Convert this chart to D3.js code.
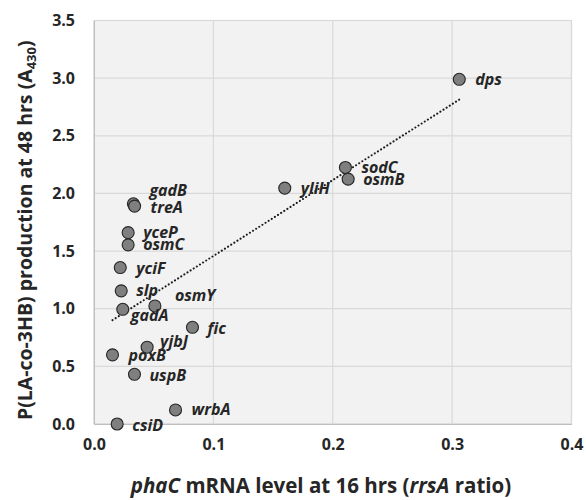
<!DOCTYPE html>
<html><head><meta charset="utf-8">
<script src="https://cdn.jsdelivr.net/npm/d3@7/dist/d3.min.js"></script>
<style>body{margin:0;background:#fff;} svg{display:block;}</style>
</head><body>
<svg id="c" width="586" height="500"></svg>
<script>
const genes = ["dps","sodC","osmB","yliH","gadB","treA","yceP","osmC","yciF","slp","gadA","osmY","fic","yjbJ","poxB","uspB","wrbA","csiD"];
const mrna  = [0.306,0.2106,0.2129,0.1598,0.033,0.034,0.0286,0.0286,0.022,0.0228,0.0241,0.051,0.0825,0.0445,0.0155,0.0339,0.0683,0.0194];
const prod  = [2.99,2.225,2.124,2.046,1.91,1.89,1.66,1.554,1.357,1.155,0.995,1.024,0.839,0.666,0.60,0.431,0.122,0.0];
// label offsets (dx, dy) relative to point
const labelDx = [16,16,15,16,16,16,15,15,16,15,8,20,15,13,16,15,16,15];
const labelDy = [0,0,0,0,-13,1,0,0,1,0,6,-10,1,-6,1,1,0,1];
const xTicks = [0,0.1,0.2,0.3,0.4];
const yTicks = [0,0.5,1.0,1.5,2.0,2.5,3.0,3.5];

const L=94, R=571.5, T=20.5, B=424;
const svg = d3.select("#c");
const x = d3.scaleLinear().domain([0,0.4]).range([L,R]);
const y = d3.scaleLinear().domain([0,3.5]).range([B,T]);

svg.append("rect").attr("x",L).attr("y",T).attr("width",R-L).attr("height",B-T)
  .attr("fill","#f2f2f2").attr("stroke","#d9d9d9").attr("stroke-width",1.2);

const g = svg.append("g");
g.selectAll(".gy").data(yTicks).join("line")
  .attr("x1",L).attr("x2",R).attr("y1",d=>y(d)).attr("y2",d=>y(d))
  .attr("stroke","#d9d9d9").attr("stroke-width",1.2);
g.selectAll(".gx").data(xTicks).join("line")
  .attr("y1",T).attr("y2",B).attr("x1",d=>x(d)).attr("x2",d=>x(d))
  .attr("stroke","#d9d9d9").attr("stroke-width",1.2);

const font = "'Open Sans', sans-serif";
const xAxis = svg.append("g").attr("transform",`translate(0,${B})`)
  .call(d3.axisBottom(x).tickValues(xTicks).tickFormat(d3.format(".1f")).tickSize(0).tickPadding(15));
const yAxis = svg.append("g").attr("transform",`translate(${L},0)`)
  .call(d3.axisLeft(y).tickValues(yTicks).tickFormat(d3.format(".1f")).tickSize(0).tickPadding(19));
[xAxis,yAxis].forEach(a=>{
  a.select(".domain").attr("stroke","#bfbfbf");
  a.selectAll("text").attr("font-family",font).attr("font-weight","bold").attr("font-size","16px").attr("fill","#262626");
});

// trendline (least squares)
const n = mrna.length;
const mx = d3.mean(mrna), my = d3.mean(prod);
let sxy=0,sxx=0;
for(let i=0;i<n;i++){sxy+=(mrna[i]-mx)*(prod[i]-my);sxx+=(mrna[i]-mx)**2;}
const slope=sxy/sxx, icpt=my-slope*mx;
const [x0,x1]=d3.extent(mrna);
svg.append("line").attr("x1",x(x0)).attr("y1",y(icpt+slope*x0)).attr("x2",x(x1)).attr("y2",y(icpt+slope*x1))
  .attr("stroke","#1a1a1a").attr("stroke-width",2).attr("stroke-dasharray","0.1 3.6").attr("stroke-linecap","round");

const data = genes.map((gname,i)=>({g:gname,x:mrna[i],y:prod[i],dx:labelDx[i],dy:labelDy[i]}));
svg.selectAll("circle.p").data(data).join("circle")
  .attr("cx",d=>x(d.x)).attr("cy",d=>y(d.y)).attr("r",6)
  .attr("fill","#7f7f7f").attr("stroke","#262626").attr("stroke-width",1.1);

svg.selectAll("text.lab").data(data).join("text")
  .attr("x",d=>x(d.x)+d.dx).attr("y",d=>y(d.y)+d.dy+5.5)
  .attr("font-family",font).attr("font-weight","bold").attr("font-style","italic").attr("font-size","16px")
  .attr("fill","#262626").text(d=>d.g);

// x title
const xt = svg.append("text").attr("x",321).attr("y",493).attr("text-anchor","middle")
  .attr("font-family",font).attr("font-weight","bold").attr("font-size","20.5px").attr("fill","#262626");
xt.append("tspan").attr("font-style","italic").text("phaC");
xt.append("tspan").text(" mRNA level at 16 hrs (");
xt.append("tspan").attr("font-style","italic").text("rrsA");
xt.append("tspan").text(" ratio)");

// y title
const yt = svg.append("text").attr("transform",`translate(32,${(T+B)/2+8}) rotate(-90)`).attr("text-anchor","middle")
  .attr("font-family",font).attr("font-weight","bold").attr("font-size","19.5px").attr("fill","#262626");
yt.append("tspan").text("P(LA-co-3HB) production at 48 hrs (A");
yt.append("tspan").attr("font-size","13px").attr("dy","4").text("430");
yt.append("tspan").attr("dy","-4").text(")");
</script>
</body></html>
